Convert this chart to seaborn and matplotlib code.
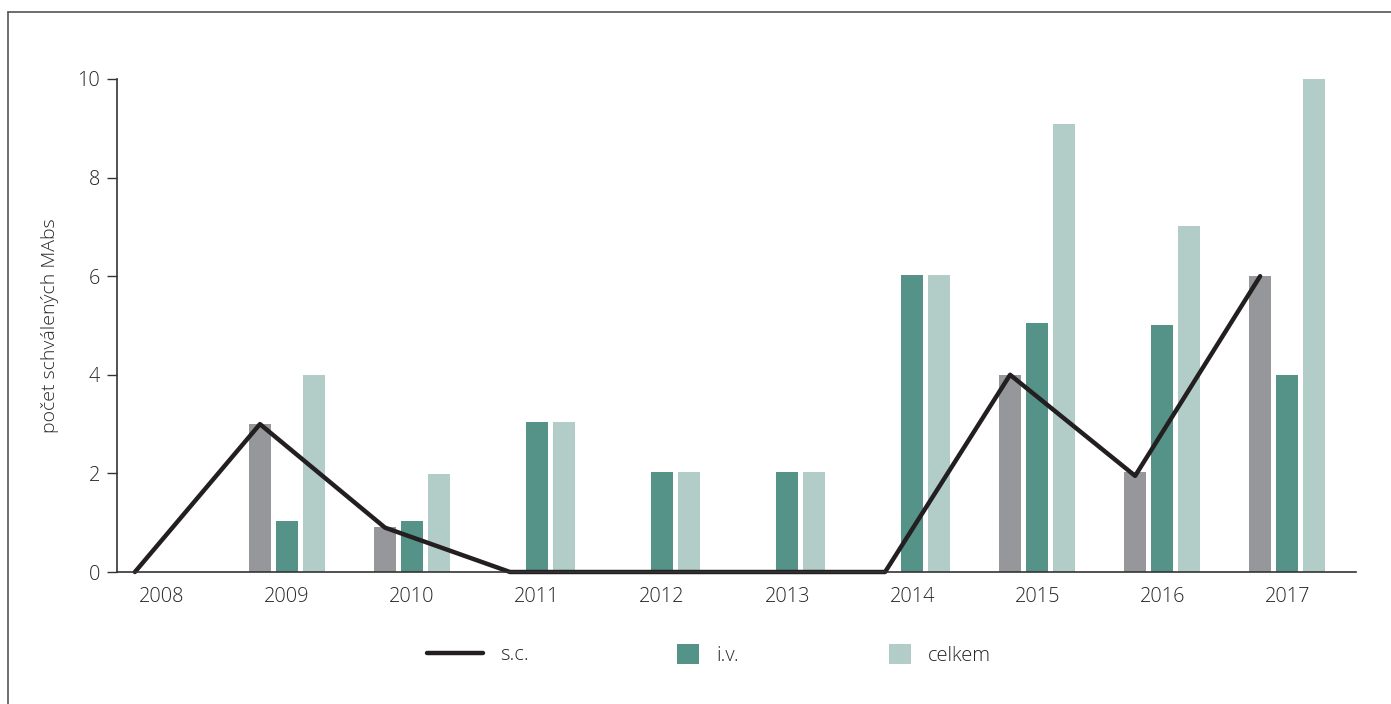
import numpy as np
import pandas as pd
import matplotlib
matplotlib.use("Agg")
import matplotlib.pyplot as plt
import seaborn as sns
from matplotlib.lines import Line2D
from matplotlib.patches import Patch

years = [2008, 2009, 2010, 2011, 2012, 2013, 2014, 2015, 2016, 2017]
sc_bars = [0, 3.0, 0.91, 0, 0, 0, 0, 4.0, 2.03, 6.0]
iv_bars = [0, 1.04, 1.04, 3.04, 2.03, 2.03, 6.03, 5.06, 5.02, 4.0]
celkem_bars = [0, 4.0, 1.99, 3.04, 2.03, 2.03, 6.03, 9.08, 7.02, 10.0]
sc_line = [0, 3.0, 0.9, 0, 0, 0, 0, 4.0, 1.95, 6.0]
series_names = ["s.c.", "i.v.", "celkem"]
colors = ["#96979b", "#559288", "#b2cdc8"]
line_color = "#231f20"

sns.set_theme(style="white")
plt.rcParams["font.family"] = ["Open Sans", "DejaVu Sans"]

df = pd.DataFrame({
    "rok": years * 3,
    "serie": [series_names[0]] * len(years) + [series_names[1]] * len(years) + [series_names[2]] * len(years),
    "pocet": sc_bars + iv_bars + celkem_bars,
})

fig = plt.figure(figsize=(13.91, 7.04), dpi=100)
ax = fig.add_axes([117 / 1391, 1 - 572 / 704, (1356 - 117) / 1391, (572 - 79) / 704])

sns.barplot(data=df, x="rok", y="pocet", hue="serie", hue_order=series_names,
            palette=colors, width=0.65, gap=0.19, linewidth=0, saturation=1,
            legend=False, ax=ax)

slot = 0.65 / 3
line_df = pd.DataFrame({"x": np.arange(len(years)) - slot, "y": sc_line})
sns.lineplot(data=line_df, x="x", y="y", color=line_color, linewidth=3.2,
             ax=ax, legend=False, clip_on=False)

ax.set_xlim(-0.36, 9.55)
ax.set_ylim(0, 10)
ax.set_yticks([0, 2, 4, 6, 8, 10])
ax.set_xticks(range(len(years)))
ax.set_xticklabels([str(y) for y in years])
for p in ax.patches:
    p.set_clip_on(False)

text_color = "#262626"
ax.tick_params(axis="x", length=0, pad=11, labelsize=14.3, labelcolor=text_color)
ax.tick_params(axis="y", length=7, width=1, pad=5, labelsize=14.3, labelcolor=text_color,
               color="#333333", left=True, direction="out")
for s in ["top", "right"]:
    ax.spines[s].set_visible(False)
for s in ["left", "bottom"]:
    ax.spines[s].set_color("#333333")
    ax.spines[s].set_linewidth(1.2)

ax.set_xlabel("")
ax.set_ylabel("počet schválených MAbs", fontsize=14, color=text_color)
ax.yaxis.set_label_coords((59 - 117) / 1239, 0.5)

for t in ax.get_xticklabels() + ax.get_yticklabels() + [ax.yaxis.label]:
    t.set_fontweight("light")

# legends
ly = 1 - 655 / 704
leg_kw = dict(frameon=False, loc="center left", borderpad=0, borderaxespad=0,
              fontsize=14.5, handletextpad=0.85, labelcolor=text_color)
leg1 = fig.legend(handles=[Line2D([0], [0], color=line_color, lw=3.2)], labels=[series_names[0]],
                  bbox_to_anchor=(427 / 1391, ly), handlelength=2.8, **leg_kw)
leg2 = fig.legend(handles=[Patch(facecolor=colors[1], linewidth=0)], labels=[series_names[1]],
                  bbox_to_anchor=(677 / 1391, ly), handlelength=1.1, handleheight=1.1, **leg_kw)
leg3 = fig.legend(handles=[Patch(facecolor=colors[2], linewidth=0)], labels=[series_names[2]],
                  bbox_to_anchor=(889 / 1391, ly), handlelength=1.1, handleheight=1.1, **leg_kw)
for lg in (leg1, leg2, leg3):
    for t in lg.get_texts():
        t.set_fontweight("light")

# outer frame (left and top edges)
fx = 8 / 1391
fy = 1 - 12 / 704
fig.add_artist(Line2D([fx, fx], [0, fy], transform=fig.transFigure, color="#555555", lw=1.2))
fig.add_artist(Line2D([fx, 1], [fy, fy], transform=fig.transFigure, color="#555555", lw=1.2))

fig.savefig("out.png", dpi=100)
